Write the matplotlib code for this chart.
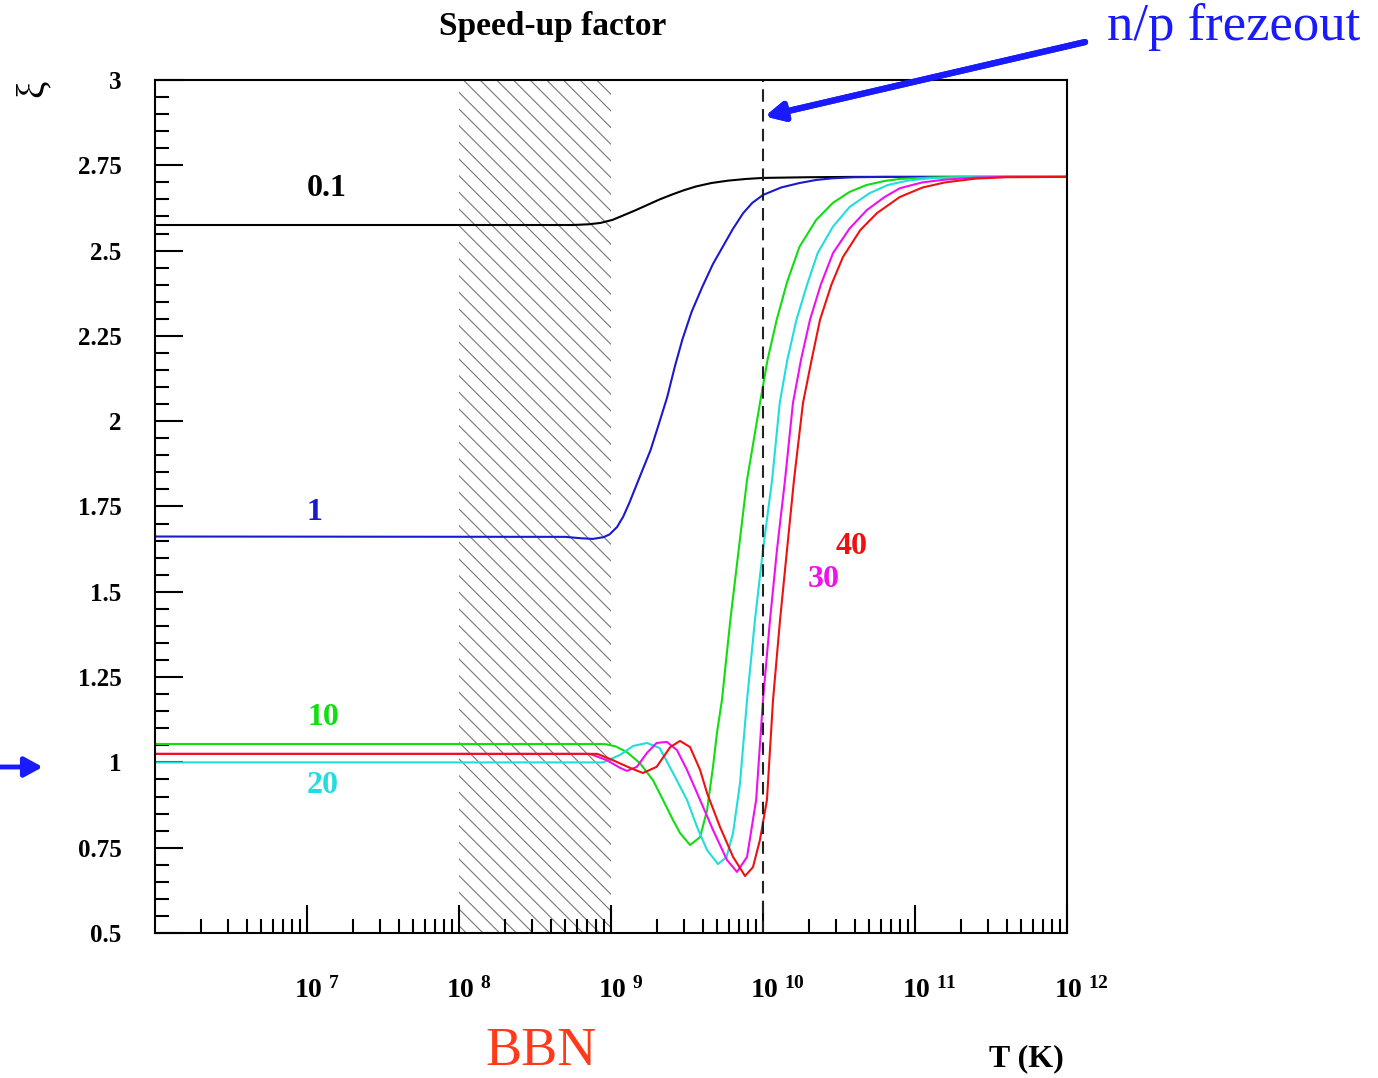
import numpy as np
import matplotlib.pyplot as plt
from matplotlib.ticker import FixedLocator, NullFormatter

plt.rcParams['font.family'] = ['Liberation Serif', 'DejaVu Serif']
plt.rcParams['mathtext.fontset'] = 'custom'
plt.rcParams['mathtext.rm'] = 'Liberation Serif'
plt.rcParams['mathtext.bf'] = 'Liberation Serif:bold'
plt.rcParams['hatch.color'] = '#777777'
plt.rcParams['hatch.linewidth'] = 0.8

# log10(T) and speed-up factor xi for each curve
lt_01 = [6.0, 8.75, 8.85, 8.93, 9.01, 9.08, 9.16, 9.24, 9.32, 9.40, 9.48, 9.56, 9.66,
         9.77, 9.89, 10.0, 10.3, 10.6, 12.0]
xi_01 = [2.575, 2.575, 2.577, 2.581, 2.590, 2.603, 2.618, 2.634, 2.650, 2.664, 2.677,
         2.688, 2.698, 2.705, 2.710, 2.713, 2.715, 2.716, 2.716]

lt_1 = [6.0, 8.70, 8.80, 8.88, 8.95, 8.99, 9.04, 9.08, 9.12, 9.165, 9.21, 9.26, 9.31,
        9.37, 9.42, 9.47, 9.53, 9.60, 9.67, 9.74, 9.80, 9.87, 9.93, 10.0, 10.12, 10.24,
        10.35, 10.46, 10.6, 10.8, 12.0]
xi_1 = [1.662, 1.661, 1.657, 1.655, 1.660, 1.668, 1.69, 1.72, 1.76, 1.81, 1.86, 1.915,
        1.985, 2.071, 2.16, 2.240, 2.32, 2.393, 2.46, 2.515, 2.562, 2.610, 2.640, 2.663,
        2.685, 2.698, 2.707, 2.712, 2.715, 2.716, 2.716]

lt_10 = [6.0, 8.93, 8.97, 9.03, 9.105, 9.19, 9.276, 9.342, 9.408, 9.454, 9.52, 9.586,
         9.632, 9.671, 9.697, 9.73, 9.785, 9.84, 9.895, 9.98, 10.03, 10.09, 10.16, 10.24,
         10.35, 10.46, 10.57, 10.68, 10.80, 10.90, 11.1, 11.3, 12.0]
xi_10 = [1.054, 1.054, 1.053, 1.047, 1.030, 0.998, 0.948, 0.890, 0.831, 0.793, 0.758,
         0.781, 0.860, 0.987, 1.086, 1.183, 1.417, 1.623, 1.828, 2.053, 2.18, 2.297, 2.41,
         2.511, 2.59, 2.640, 2.672, 2.692, 2.704, 2.710, 2.714, 2.716, 2.716]

lt_20 = [6.0, 8.947, 9.06, 9.145, 9.237, 9.32, 9.408, 9.50, 9.566, 9.632, 9.704, 9.76,
         9.803, 9.849, 9.895, 9.947, 10.0, 10.06, 10.11, 10.16, 10.22, 10.29, 10.36,
         10.46, 10.57, 10.70, 10.82, 10.95, 11.1, 11.3, 11.5, 12.0]
xi_20 = [1.0, 1.0, 1.022, 1.048, 1.057, 1.042, 0.969, 0.890, 0.811, 0.743, 0.702, 0.723,
         0.793, 0.94, 1.183, 1.417, 1.623, 1.828, 2.053, 2.18, 2.297, 2.40, 2.493, 2.57,
         2.628, 2.668, 2.692, 2.705, 2.712, 2.715, 2.716, 2.716]

lt_30 = [6.0, 8.86, 8.97, 9.06, 9.105, 9.17, 9.237, 9.30, 9.368, 9.434, 9.50, 9.586,
         9.671, 9.763, 9.829, 9.895, 9.955, 10.0, 10.046, 10.092, 10.145, 10.197, 10.25,
         10.309, 10.38, 10.461, 10.57, 10.684, 10.80, 10.901, 11.05, 11.2, 11.4, 11.6, 12.0]
xi_30 = [1.025, 1.025, 1.007, 0.984, 0.975, 0.987, 1.028, 1.057, 1.060, 1.036, 0.978,
         0.890, 0.802, 0.714, 0.679, 0.723, 0.890, 1.183, 1.417, 1.623, 1.828, 2.053, 2.18,
         2.297, 2.40, 2.493, 2.565, 2.619, 2.657, 2.683, 2.70, 2.708, 2.714, 2.716, 2.716]

lt_40 = [6.0, 8.91, 9.01, 9.125, 9.21, 9.30, 9.39, 9.454, 9.52, 9.586, 9.632, 9.717,
         9.803, 9.882, 9.934, 9.98, 10.026, 10.066, 10.112, 10.158, 10.204, 10.263, 10.32,
         10.375, 10.45, 10.526, 10.64, 10.75, 10.90, 11.05, 11.2, 11.4, 11.6, 12.0]
xi_40 = [1.025, 1.025, 1.007, 0.984, 0.969, 0.987, 1.045, 1.063, 1.045, 0.978, 0.910,
         0.811, 0.723, 0.667, 0.693, 0.773, 0.890, 1.183, 1.417, 1.623, 1.828, 2.053, 2.18,
         2.297, 2.40, 2.481, 2.56, 2.610, 2.657, 2.685, 2.70, 2.711, 2.715, 2.716]

curves = [
    (lt_01, xi_01, 'black', '0.1', 7.13, 2.683),
    (lt_1, xi_1, '#1a1acc', '1', 7.05, 1.731),
    (lt_10, xi_10, '#11dd11', '10', 7.105, 1.133),
    (lt_20, xi_20, '#22dddd', '20', 7.105, 0.931),
    (lt_30, xi_30, '#ee11ee', '30', 10.40, 1.535),
    (lt_40, xi_40, '#ee1111', '40', 10.58, 1.634),
]

bbn_lo, bbn_hi = 1e8, 1e9
freezeout_T = 1e10
x_major = [1e7, 1e8, 1e9, 1e10, 1e11, 1e12]
x_major_lab = [7, 8, 9, 10, 11, 12]

fig = plt.figure(figsize=(13.78, 10.78), dpi=100)
ax = fig.add_axes([0.1125, 0.1345, 0.6618, 0.7913])

ax.axvspan(bbn_lo, bbn_hi, facecolor='none', edgecolor='#777777', hatch='\\\\', lw=0)

for lt, xi, col, lab, lx, ly in curves:
    ax.plot(10 ** np.array(lt), xi, color=col, lw=1.5)
    ax.text(10 ** lx, ly, lab, color=col, fontsize=23, fontweight='bold', ha='center', va='center')

ax.axvline(freezeout_T, color='#222222', lw=1.5, dashes=(6, 3.5))

ax.set_xscale('log')
ax.set_xlim(1e6, 1e12)
ax.set_ylim(0.5, 3)

ax.xaxis.set_major_locator(FixedLocator(x_major))
ax.set_xticklabels([r'$\mathbf{10^{\ %d}}$' % v for v in x_major_lab])
minors = [m * 10 ** d for d in range(6, 12) for m in range(2, 10)]
ax.xaxis.set_minor_locator(FixedLocator(minors))
ax.xaxis.set_minor_formatter(NullFormatter())

yt = np.arange(0.5, 3.01, 0.25)
ax.set_yticks(yt)
ax.set_yticklabels(['%g' % v for v in yt])
ax.set_yticks(np.arange(0.5, 3.001, 0.05), minor=True)

ax.tick_params(which='both', direction='in', top=False, right=False, width=1.5)
ax.tick_params(which='major', length=20)
ax.tick_params(which='minor', length=10)
ax.tick_params(axis='y', which='major', pad=24, labelsize=18)
ax.tick_params(axis='x', which='major', pad=32, labelsize=20)
for lab in ax.get_yticklabels():
    lab.set_fontweight('bold')
for lab in ax.get_xticklabels():
    lab.set_horizontalalignment('left')
    lab.set_x(0)
for lab, v in zip(ax.get_xticklabels(), x_major):
    lab.set_transform(lab.get_transform() + plt.matplotlib.transforms.ScaledTranslation(-0.13, 0, fig.dpi_scale_trans))
for s in ax.spines.values():
    s.set_linewidth(1.5)

fig.text(0.401, 0.975, 'Speed-up factor', fontsize=24, fontweight='bold', ha='center', va='center')
fig.text(0.024, 0.918, 'ξ', fontsize=28, rotation=90, ha='center', va='center')
fig.text(0.745, 0.018, 'T (K)', fontsize=23, fontweight='bold', ha='center', va='center')
fig.text(0.393, 0.024, 'BBN', fontsize=39, color='#ff3a1a', ha='center', va='center')
fig.text(0.895, 0.975, 'n/p frezeout', fontsize=38, color='#1a1aff', ha='center', va='center')

fig.add_artist(plt.annotate('', xy=(0.555, 0.892), xytext=(0.7874, 0.961),
                            xycoords='figure fraction', textcoords='figure fraction',
                            arrowprops=dict(arrowstyle='-|>,head_length=1.1,head_width=0.55',
                                            color='#1a1aff', lw=4.5, shrinkA=0, shrinkB=0)))
ax.annotate('', xy=(0.031, 0.2885), xytext=(0.0, 0.2885),
            xycoords='figure fraction', textcoords='figure fraction',
            arrowprops=dict(arrowstyle='-|>,head_length=1.1,head_width=0.6',
                            color='#1a1aff', lw=3.5, shrinkA=0, shrinkB=0), annotation_clip=False)

fig.savefig('out.png', dpi=100)
